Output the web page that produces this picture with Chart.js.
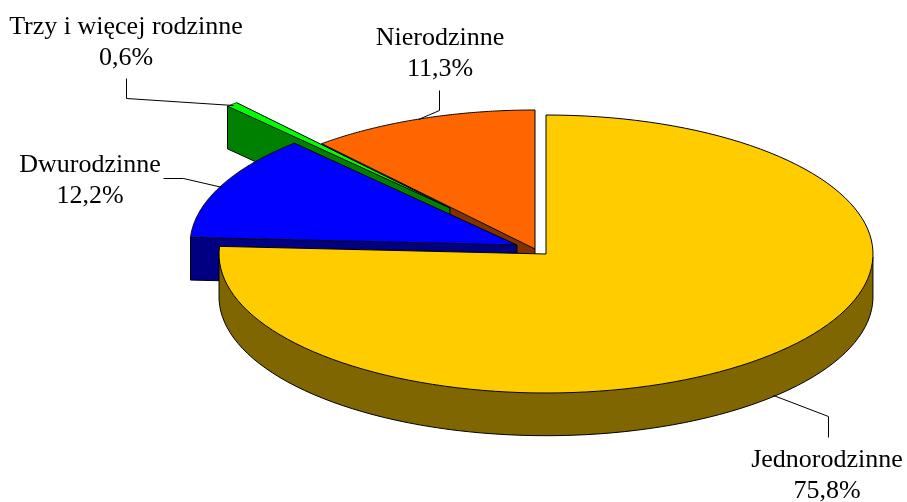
<!DOCTYPE html>
<html>
<head>
<meta charset="utf-8">
<style>
    html, body { margin: 0; padding: 0; background: #fff; overflow: hidden; }
    canvas { display: block; }
</style>
<script src="https://cdn.jsdelivr.net/npm/chart.js@4"></script>
</head>
<body>
<canvas id="myChart" width="907" height="502"></canvas>
<script>
// data, clockwise from 12 o'clock
let categories = ['Jednorodzinne', 'Dwurodzinne', 'Trzy i więcej rodzinne', 'Nierodzinne'];
let shares = [75.8, 12.2, 0.6, 11.3];

let topColors = ['#FFCC00', '#0000FF', '#00FF00', '#FF6600'];
let wallColors = ['#806600', '#000080', '#008000', '#803300'];

// look of the tilted pie
const radiusX = 327;
const radiusY = 139;
const depth = 42.7;
const drawOrder = [3, 2, 1, 0]; // back to front
// where the tip of each slice sits after it is pulled out
const sliceTips = [[546, 254], [517, 245], [450, 208], [535, 249]];

const labelFont = '26px "Liberation Serif"';
const labelSpots = [[827, 467], [90, 172], [126, 34], [440, 45]];
const leaders = [
    [[773, 395], [828, 416], [828, 437]],
    [[163, 178], [183, 178], [222, 187]],
    [[126, 78], [126, 98], [233, 105]],
    [[439, 90], [439, 110], [418, 119]]
];

function sliceOutline(arc, i) {
    let pts = [sliceTips[i]];
    const steps = 120;
    for (let s = 0; s <= steps; s++) {
        let a = arc.startAngle + (arc.endAngle - arc.startAngle) * s / steps;
        pts.push([sliceTips[i][0] + Math.cos(a) * radiusX, sliceTips[i][1] + Math.sin(a) * radiusY]);
    }
    return pts;
}

// the part of the outline that faces the viewer, from right to left
function frontEdge(pts) {
    let right = 0, left = 0;
    pts.forEach((p, k) => {
        if (p[0] > pts[right][0]) right = k;
        if (p[0] < pts[left][0]) left = k;
    });
    let edge = [];
    for (let k = right; ; k = (k + 1) % pts.length) {
        edge.push(pts[k]);
        if (k === left) break;
    }
    return edge;
}

function drawWall(ctx, arc, i) {
    let edge = frontEdge(sliceOutline(arc, i));
    ctx.beginPath();
    edge.forEach((p, k) => k ? ctx.lineTo(p[0], p[1]) : ctx.moveTo(p[0], p[1]));
    edge.slice().reverse().forEach(p => ctx.lineTo(p[0], p[1] + depth));
    ctx.closePath();
    ctx.fillStyle = wallColors[i];
    ctx.fill();

    ctx.beginPath();
    let first = edge[0], last = edge[edge.length - 1];
    ctx.moveTo(first[0], first[1]);
    edge.forEach(p => ctx.lineTo(p[0], p[1] + depth));
    ctx.lineTo(last[0], last[1]);
    ctx.stroke();
}

function drawTop(ctx, chart, arc, i) {
    // the library draws the slice, squashed into an ellipse
    ctx.save();
    ctx.translate(sliceTips[i][0], sliceTips[i][1]);
    ctx.scale(radiusX / arc.outerRadius, radiusY / arc.outerRadius);
    ctx.translate(-arc.x, -arc.y);
    arc.draw(ctx, chart.chartArea);
    ctx.restore();

    ctx.beginPath();
    sliceOutline(arc, i).forEach((p, k) => k ? ctx.lineTo(p[0], p[1]) : ctx.moveTo(p[0], p[1]));
    ctx.closePath();
    ctx.stroke();
}

const tiltedPie = {
    id: 'tiltedPie',
    beforeDatasetsDraw(chart) {
        let ctx = chart.ctx;
        let arcs = chart.getDatasetMeta(0).data;
        ctx.save();
        ctx.strokeStyle = '#000';
        ctx.lineWidth = 1;
        ctx.lineJoin = 'round';
        drawOrder.forEach(i => {
            drawWall(ctx, arcs[i], i);
            drawTop(ctx, chart, arcs[i], i);
        });
        ctx.restore();
        return false;
    },
    afterDraw(chart) {
        let ctx = chart.ctx;
        ctx.save();
        ctx.strokeStyle = '#000';
        ctx.lineWidth = 1;
        leaders.forEach(line => {
            ctx.beginPath();
            line.forEach((p, k) => k ? ctx.lineTo(p[0] + 0.5, p[1] + 0.5) : ctx.moveTo(p[0] + 0.5, p[1] + 0.5));
            ctx.stroke();
        });
        ctx.fillStyle = '#000';
        ctx.font = labelFont;
        ctx.textAlign = 'center';
        ctx.textBaseline = 'alphabetic';
        categories.forEach((name, i) => {
            ctx.fillText(name, labelSpots[i][0], labelSpots[i][1]);
            ctx.fillText(String(shares[i]).replace('.', ',') + '%', labelSpots[i][0], labelSpots[i][1] + 31);
        });
        ctx.restore();
    }
};

function myChart() {
    let ctx = document.getElementById('myChart').getContext('2d');
    new Chart(ctx, {
        type: 'pie',
        data: {
            labels: categories,
            datasets: [{
                data: shares,
                backgroundColor: topColors,
                borderWidth: 0
            }]
        },
        options: {
            responsive: false,
            animation: false,
            plugins: {
                legend: { display: false },
                tooltip: { enabled: false }
            }
        },
        plugins: [tiltedPie]
    });
}
myChart()
</script>
</body>
</html>
